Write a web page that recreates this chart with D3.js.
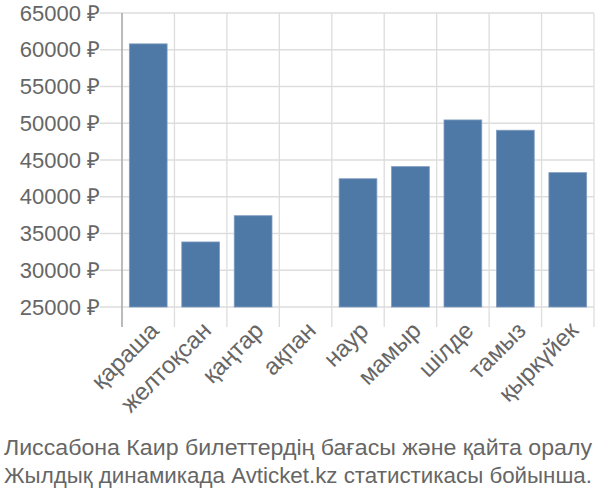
<!DOCTYPE html>
<html>
<head>
<meta charset="utf-8">
<script src="https://cdn.jsdelivr.net/npm/d3@7"></script>
<style>
  body { margin: 0; background: #fff; }
  text { font-family: "Liberation Sans", Arial, sans-serif; }
</style>
</head>
<body>
<script>
let months = ["қараша", "желтоқсан", "қаңтар", "ақпан", "наур", "мамыр", "шілде", "тамыз", "қыркүйек"]
let prices = [60800, 33850, 37420, 25000, 42450, 44100, 50450, 49050, 43280]
let yTicks = [25000, 30000, 35000, 40000, 45000, 50000, 55000, 60000, 65000]
let caption = ["Лиссабона Каир билеттердің бағасы және қайта оралу",
               "Жылдық динамикада Avticket.kz статистикасы бойынша."]

let width = 600
let height = 500
let margin = { top: 13, right: 6, bottom: 193, left: 122 }

let svg = d3.select("body").append("svg")
    .attr("width", width)
    .attr("height", height)

let x = d3.scaleBand()
    .domain(months)
    .range([margin.left, width - margin.right])
    .paddingInner(0.28)
    .paddingOuter(0.14)

let y = d3.scaleLinear()
    .domain([25000, 65000])
    .range([height - margin.bottom, margin.top])

let step = x.step()
let edge = (d) => x(d) - step * 0.14

// horizontal grid + y labels
svg.append("g").selectAll("line").data(yTicks).enter().append("line")
    .attr("x1", 100)
    .attr("x2", width - margin.right)
    .attr("y1", (d) => y(d))
    .attr("y2", (d) => y(d))
    .attr("stroke", "#ddd")
    .attr("stroke-width", 1.3)

svg.append("g").selectAll("text").data(yTicks).enter().append("text")
    .attr("x", 100)
    .attr("y", (d) => y(d))
    .attr("dy", "0.35em")
    .attr("text-anchor", "end")
    .attr("fill", "#666")
    .style("font-size", "22px")
    .text((d) => d + " ₽")

// vertical grid, extends below as ticks
let vx = months.map(edge).concat([width - margin.right])
svg.append("g").selectAll("line").data(vx).enter().append("line")
    .attr("x1", (d) => d)
    .attr("x2", (d) => d)
    .attr("y1", margin.top)
    .attr("y2", (d, i) => height - margin.bottom + 20)
    .attr("stroke", (d, i) => i === 0 ? "#aaa" : "#ddd")
    .attr("stroke-width", (d, i) => i === 0 ? 1.6 : 1.3)

// bars
svg.append("g").selectAll("rect").data(prices).enter().append("rect")
    .attr("x", (d, i) => x(months[i]))
    .attr("y", (d) => y(d))
    .attr("width", x.bandwidth())
    .attr("height", (d) => y(25000) - y(d))
    .attr("fill", "#4e79a7")
    .attr("stroke", "#7f9cc0")
    .attr("stroke-width", 0.8)

// x labels
svg.append("g").selectAll("text").data(months).enter().append("text")
    .attr("transform", (d) => "translate(" + (x(d) + x.bandwidth() / 2 + 6) + "," + (height - margin.bottom + 19) + ") rotate(-45)")
    .attr("text-anchor", "end")
    .attr("dy", "0.35em")
    .attr("fill", "#666")
    .style("font-size", "24px")
    .text((d) => d)

// caption, stretched nearly to the full width like the original
svg.append("g").selectAll("text").data(caption).enter().append("text")
    .attr("x", 4)
    .attr("y", (d, i) => 455 + i * 28)
    .attr("textLength", 588)
    .attr("lengthAdjust", "spacingAndGlyphs")
    .attr("fill", "#666")
    .style("font-family", "'Liberation Sans Narrow', 'Liberation Sans', sans-serif")
    .style("font-size", "22px")
    .text((d) => d)
</script>
</body>
</html>
